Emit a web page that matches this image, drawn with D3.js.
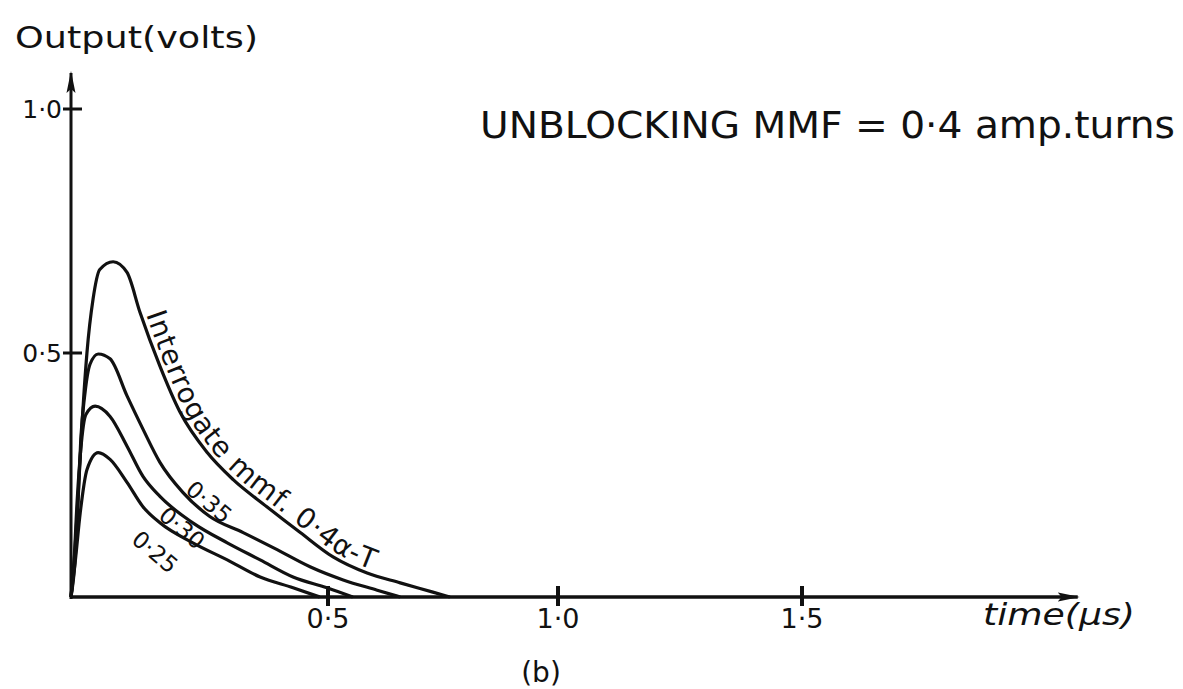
<!DOCTYPE html>
<html>
<head>
<meta charset="utf-8">
<script src="https://cdn.jsdelivr.net/npm/d3@7"></script>
<style>
  body { margin: 0; background: #fff; }
  text { font-family: "DejaVu Sans", sans-serif; fill: #111; }
</style>
</head>
<body>
<svg id="chart" width="1183" height="689"></svg>
<script>
// tick values and labels (hand lettered with a raised dot)
const timeTicks = [0.5, 1.0, 1.5];
const timeTickLabels = ["0·5", "1·0", "1·5"];
const voltTicks = [0.5, 1.0];
const voltTickLabels = ["0·5", "1·0"];

// output pulses, [time (µs), volts], one per interrogate mmf
const pulse040 = [[0,0],[0.008,0.101],[0.016,0.249],[0.023,0.381],[0.031,0.5],[0.043,0.611],[0.056,0.671],
  [0.082,0.687],[0.109,0.665],[0.134,0.584],[0.173,0.473],[0.212,0.379],[0.265,0.296],[0.315,0.241],
  [0.381,0.185],[0.446,0.132],[0.511,0.082],[0.585,0.049],[0.657,0.029],[0.728,0.010],[0.765,0]];
const pulse035 = [[0,0],[0.008,0.076],[0.014,0.2],[0.019,0.323],[0.027,0.416],[0.037,0.477],[0.053,0.498],
  [0.076,0.488],[0.109,0.412],[0.14,0.344],[0.173,0.276],[0.218,0.214],[0.27,0.165],[0.335,0.132],
  [0.401,0.097],[0.465,0.062],[0.533,0.035],[0.607,0.014],[0.657,0]];
const pulse030 = [[0,0],[0.006,0.076],[0.012,0.198],[0.019,0.302],[0.029,0.374],[0.047,0.391],[0.076,0.370],
  [0.109,0.309],[0.14,0.247],[0.173,0.206],[0.237,0.152],[0.304,0.111],[0.368,0.076],[0.432,0.041],
  [0.498,0.019],[0.554,0]];
const pulse025 = [[0,0],[0.008,0.07],[0.018,0.173],[0.031,0.261],[0.053,0.296],[0.076,0.282],[0.109,0.235],
  [0.14,0.185],[0.173,0.152],[0.237,0.111],[0.304,0.076],[0.368,0.041],[0.432,0.019],[0.484,0]];

const mmfLabels = ["Interrogate mmf. 0·4α-T", "0·35", "0·30", "0·25"];

const svg = d3.select("#chart");

// the hand drawn axis is not evenly spaced, so the scale follows its ticks
const x = d3.scaleLinear().domain([0, 0.5, 1.0, 1.5, 2.0]).range([71, 328, 558, 802, 1046]);
const y = d3.scaleLinear().domain([0, 1]).range([597, 109]);

svg.append("defs").append("marker")
    .attr("id", "arrow")
    .attr("viewBox", "0 -6 22 12")
    .attr("refX", 20).attr("refY", 0)
    .attr("markerWidth", 22).attr("markerHeight", 12)
    .attr("markerUnits", "userSpaceOnUse")
    .attr("orient", "auto")
  .append("path")
    .attr("d", "M0,-4.5L22,0L0,4.5L4,0Z")
    .attr("fill", "#111");

// axes
svg.append("line")
    .attr("x1", x(0)).attr("y1", y(0))
    .attr("x2", x(2.065)).attr("y2", y(0))
    .attr("stroke", "#111").attr("stroke-width", 3.5)
    .attr("marker-end", "url(#arrow)");
svg.append("line")
    .attr("x1", x(0)).attr("y1", y(0) + 2)
    .attr("x2", x(0)).attr("y2", y(1.074))
    .attr("stroke", "#111").attr("stroke-width", 3)
    .attr("marker-end", "url(#arrow)");

svg.selectAll(".xtick").data(timeTicks).enter().append("line")
    .attr("x1", d => x(d)).attr("x2", d => x(d))
    .attr("y1", y(0) - 11).attr("y2", y(0) + 9)
    .attr("stroke", "#111").attr("stroke-width", 4);
svg.selectAll(".xlab").data(timeTicks).enter().append("text")
    .attr("x", d => x(d)).attr("y", 628)
    .attr("text-anchor", "middle")
    .style("font-size", "27px")
    .text((d, i) => timeTickLabels[i]);

svg.selectAll(".ytick").data(voltTicks).enter().append("line")
    .attr("x1", x(0) - 8).attr("x2", x(0) + 11)
    .attr("y1", d => y(d)).attr("y2", d => y(d))
    .attr("stroke", "#111").attr("stroke-width", 3);
svg.selectAll(".ylab").data(voltTicks).enter().append("text")
    .attr("x", 62).attr("y", d => y(d) + 9)
    .attr("text-anchor", "end")
    .style("font-size", "25px")
    .text((d, i) => voltTickLabels[i]);

// pulses
const line = d3.line()
    .x(d => x(d[0])).y(d => y(d[1]))
    .curve(d3.curveMonotoneX);

const pulses = [pulse040, pulse035, pulse030, pulse025];
svg.selectAll(".pulse").data(pulses).enter().append("path")
    .attr("class", "pulse")
    .attr("id", (d, i) => "pulse" + i)
    .attr("d", line)
    .attr("fill", "none")
    .attr("stroke", "#111")
    .attr("stroke-width", 3.2)
    .attr("stroke-linejoin", "round");

// label along the top pulse
const topPath = document.getElementById("pulse0");
const total = topPath.getTotalLength();
let start = 0;
for (let l = 0; l < total; l++) {
  const p = topPath.getPointAtLength(l);
  if (p.x >= 141 && p.y > 300) { start = l; break; }
}
svg.append("text")
    .attr("dy", -5)
    .style("font-size", "28px")
    .style("letter-spacing", "1px")
  .append("textPath")
    .attr("href", "#pulse0")
    .attr("startOffset", start)
    .text(mmfLabels[0]);

// small labels under the lower pulses
const smallPos = [[209, 502], [182, 528], [155, 552]];
svg.selectAll(".mmf").data(smallPos).enter().append("text")
    .attr("transform", d => "translate(" + d[0] + "," + d[1] + ") rotate(40)")
    .attr("text-anchor", "middle")
    .attr("dy", 8)
    .style("font-size", "23px")
    .text((d, i) => mmfLabels[i + 1]);

// titles
svg.append("text")
    .attr("x", 15).attr("y", 48)
    .attr("textLength", 243).attr("lengthAdjust", "spacingAndGlyphs")
    .style("font-size", "31px")
    .text("Output(volts)");

svg.append("text")
    .attr("x", 480).attr("y", 138)
    .attr("textLength", 695).attr("lengthAdjust", "spacingAndGlyphs")
    .style("font-size", "37px")
    .text("UNBLOCKING  MMF = 0·4 amp.turns");

svg.append("text")
    .attr("x", 983).attr("y", 625)
    .attr("textLength", 152).attr("lengthAdjust", "spacingAndGlyphs")
    .style("font-size", "31px").style("font-style", "italic")
    .text("time(µs)");

svg.append("text")
    .attr("x", 541).attr("y", 682)
    .attr("text-anchor", "middle")
    .style("font-size", "28px")
    .text("(b)");
</script>
</body>
</html>
